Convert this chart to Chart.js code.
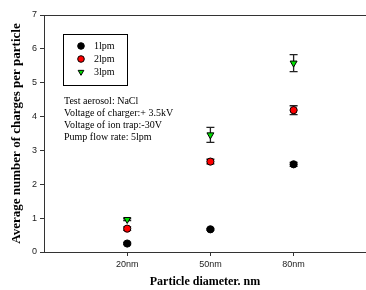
<!DOCTYPE html>
<html>
<head>
<meta charset="utf-8">
<script src="https://cdn.jsdelivr.net/npm/chart.js@4/dist/chart.umd.min.js"></script>
<style>
  html, body { margin: 0; padding: 0; background: #fff; }
  #wrap { width: 366px; height: 290px; }
</style>
</head>
<body>
<div id="wrap"><canvas id="grafico" width="366" height="290"></canvas></div>
<script>
// dados
const categorias = ['20nm', '50nm', '80nm'];
const posicoes = [1, 2, 3];
const lpm1 = [0.25, 0.67, 2.59];
const lpm1Erro = [0.03, 0.03, 0.06];
const lpm2 = [0.69, 2.67, 4.19];
const lpm2Erro = [0.05, 0.07, 0.13];
const lpm3 = [0.96, 3.46, 5.58];
const lpm3Erro = [0.03, 0.22, 0.25];
const yTicks = [0, 1, 2, 3, 4, 5, 6, 7];
const anotacao = [
    'Test aerosol: NaCl',
    'Voltage of charger:+ 3.5kV',
    'Voltage of ion trap:-30V',
    'Pump flow rate: 5lpm'
];

const serif = '"Liberation Serif", "Times New Roman", serif';
const sans = '"Liberation Sans", Arial, sans-serif';

function pontos(valores, erros) {
    return valores.map((v, i) => ({ x: posicoes[i], y: v, e: erros[i] }));
}

const series = [
    { label: '1lpm', data: pontos(lpm1, lpm1Erro), cor: '#000000', estilo: 'circle', rot: 0 },
    { label: '2lpm', data: pontos(lpm2, lpm2Erro), cor: '#ff0000', estilo: 'circle', rot: 0 },
    { label: '3lpm', data: pontos(lpm3, lpm3Erro), cor: '#00e000', estilo: 'triangle', rot: 180 }
];

// barras de erro, borda de cima, legenda, texto e títulos
const extras = {
    id: 'extras',
    beforeDatasetsDraw(chart) {
        const ctx = chart.ctx;
        const sx = chart.scales.x, sy = chart.scales.y;
        ctx.save();
        ctx.strokeStyle = '#222';
        ctx.lineWidth = 1.3;
        series.forEach(s => {
            s.data.forEach(p => {
                const px = sx.getPixelForValue(p.x);
                const top = sy.getPixelForValue(p.y + p.e);
                const bot = sy.getPixelForValue(p.y - p.e);
                ctx.beginPath();
                ctx.moveTo(px, top); ctx.lineTo(px, bot);
                ctx.moveTo(px - 4, top); ctx.lineTo(px + 4, top);
                ctx.moveTo(px - 4, bot); ctx.lineTo(px + 4, bot);
                ctx.stroke();
            });
        });
        ctx.restore();
    },
    afterDraw(chart) {
        const ctx = chart.ctx;
        const area = chart.chartArea;
        ctx.save();
        // linha de cima e resto da linha de baixo até a borda
        ctx.strokeStyle = '#333';
        ctx.lineWidth = 1;
        ctx.beginPath();
        ctx.moveTo(area.left, area.top + 0.5);
        ctx.lineTo(366, area.top + 0.5);
        ctx.moveTo(area.right - 1, area.bottom + 0.5);
        ctx.lineTo(366, area.bottom + 0.5);
        ctx.stroke();

        // legenda
        ctx.strokeStyle = '#000';
        ctx.strokeRect(63.5, 34.5, 64, 51);
        ctx.font = '10px ' + serif;
        ctx.textBaseline = 'middle';
        ctx.textAlign = 'left';
        series.forEach((s, i) => {
            const y = 46 + i * 13;
            ctx.fillStyle = s.cor;
            ctx.strokeStyle = '#000';
            ctx.lineWidth = 1;
            Chart.helpers.drawPoint(ctx, { pointStyle: s.estilo, radius: 3.3, rotation: s.rot, borderWidth: 1 }, 81, y);
            ctx.fillStyle = '#000';
            ctx.fillText(s.label, 94, y);
        });

        // texto de anotação
        ctx.font = '10px ' + serif;
        anotacao.forEach((t, i) => ctx.fillText(t, 64, 101.5 + i * 12));

        // títulos dos eixos
        ctx.font = 'bold 12px ' + serif;
        ctx.textAlign = 'center';
        ctx.fillText('Particle diameter. nm', 205, 282);
        ctx.font = 'bold 13px ' + serif;
        ctx.translate(17, (area.top + area.bottom) / 2);
        ctx.rotate(-Math.PI / 2);
        ctx.fillText('Average number of charges per particle', 0, 0);
        ctx.restore();
    }
};

new Chart(document.getElementById('grafico').getContext('2d'), {
    type: 'scatter',
    data: {
        datasets: series.map(s => ({
            label: s.label,
            data: s.data,
            pointStyle: s.estilo,
            rotation: s.rot,
            pointRadius: s.estilo === 'triangle' ? 4 : 3.6,
            pointBackgroundColor: s.cor,
            pointBorderColor: '#000',
            pointBorderWidth: 1
        }))
    },
    options: {
        responsive: false,
        animation: false,
        layout: { padding: { top: 15, left: 0, right: 0, bottom: 0 } },
        plugins: { legend: { display: false }, tooltip: { enabled: false } },
        scales: {
            x: {
                type: 'linear',
                min: 0,
                max: 3.81,
                afterBuildTicks: scale => { scale.ticks = posicoes.map(v => ({ value: v })); },
                afterFit: scale => { scale.height = 38; },
                ticks: {
                    callback: v => categorias[posicoes.indexOf(v)] || '',
                    font: { family: sans, size: 9 },
                    color: '#222',
                    padding: 3,
                    maxRotation: 0
                },
                grid: { display: true, drawOnChartArea: false, drawTicks: true, tickLength: 4, color: '#333' },
                border: { display: true, color: '#333', width: 1 }
            },
            y: {
                min: 0,
                max: 7,
                afterBuildTicks: scale => { scale.ticks = yTicks.map(v => ({ value: v })); },
                afterFit: scale => { scale.width = 44; },
                ticks: {
                    font: { family: sans, size: 9 },
                    color: '#222',
                    padding: 3
                },
                grid: { display: true, drawOnChartArea: false, drawTicks: true, tickLength: 4, color: '#333' },
                border: { display: true, color: '#333', width: 1 }
            }
        }
    },
    plugins: [extras]
});
</script>
</body>
</html>
